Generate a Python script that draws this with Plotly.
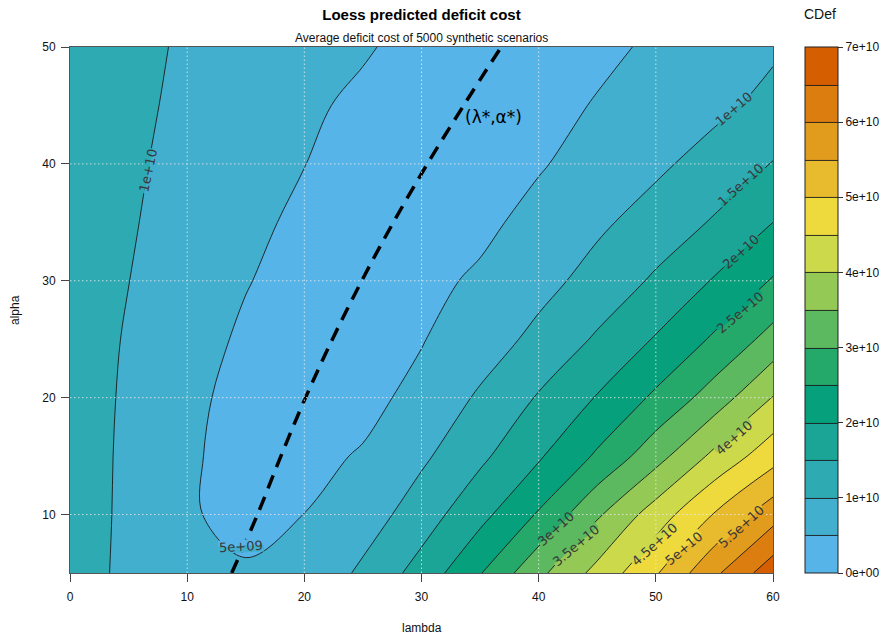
import math
import numpy as np
import plotly.graph_objects as go

# grid of the loess surface
lam = [0, 5, 10, 15, 20, 25, 30, 35, 40, 45, 50, 55, 60]
alpha = [5, 10, 15, 20, 25, 30, 35, 40, 45, 50]

# predicted deficit cost (units of 1e9), one row per alpha value
cdef_e9 = [
    [12.5, 8.8, 5.9, 5.25, 5.8, 11.0, 16.9, 24.7, 33.8, 41.5, 49.5, 59.0, 68.0],    # alpha 5
    [12.5, 9.0, 5.25, 4.3, 5.02, 7.4, 12.6, 18.5, 25.5, 34.3, 42.4, 50.3, 58.0],    # alpha 10
    [12.5, 9.1, 5.27, 4.3, 4.05, 5.3, 9.1, 14.0, 19.4, 25.7, 33.1, 41.2, 48.0],     # alpha 15
    [12.5, 9.3, 5.51, 4.3, 3.75, 3.95, 6.05, 10.74, 15.4, 20.3, 25.9, 32.3, 40.2],  # alpha 20
    [12.5, 9.6, 6.29, 4.5, 3.8, 3.8, 4.8, 7.28, 11.4, 15.6, 20.4, 25.7, 31.8],      # alpha 25
    [12.5, 10.05, 7.3, 5.16, 3.8, 3.5, 3.76, 5.7, 8.25, 11.9, 15.7, 20.4, 25.4],    # alpha 30
    [12.5, 10.4, 8.2, 5.94, 4.2, 3.6, 3.5, 3.91, 6.5, 9.06, 12.2, 15.45, 20.0],     # alpha 35
    [12.3, 10.63, 8.78, 6.92, 5.05, 3.8, 3.4, 3.6, 4.58, 6.9, 9.01, 12.1, 15.2],    # alpha 40
    [12.2, 10.89, 9.18, 7.48, 5.6, 4.3, 3.5, 3.25, 3.45, 5.31, 7.23, 8.74, 11.6],   # alpha 45
    [12.0, 10.96, 9.55, 8.14, 6.74, 5.35, 3.9, 3.2, 3.2, 3.95, 5.7, 7.45, 9.2],     # alpha 50
]

# optimal lambda for each alpha (dashed path)
lambda_star = [13.8, 16.0, 18.0, 20.1, 22.4, 24.9, 27.6, 30.5, 33.6, 36.8]
alpha_star = alpha

# contour levels and colour key ticks
level_start, level_end, level_step = 5e9, 6.5e10, 5e9
key_min, key_max = 0, 7e10
key_ticks = [0, 1e10, 2e10, 3e10, 4e10, 5e10, 6e10, 7e10]

# contour levels that carry an inline label
label_levels = [1e10, 5e9, 1e10, 1.5e10, 2e10, 2.5e10, 3e10, 3.5e10, 4e10, 4.5e10, 5e10, 5.5e10]

x_ticks = [0, 10, 20, 30, 40, 50, 60]
y_ticks = [10, 20, 30, 40, 50]
x_grid = [10, 20, 30, 40, 50]
y_grid = [10, 20, 30, 40]


def sci(v):
    """R-style scientific label: 1e+10, 1.5e+10, 5e+09, 0e+00."""
    mant, exp = ("%.1e" % v).split("e")
    mant = mant.rstrip("0").rstrip(".")
    return "%se%s" % (mant, exp)


z = np.array(cdef_e9) * 1e9

# 14-step palette ramped through blue -> green -> yellow -> vermillion
anchors = np.array([[0x56, 0xB4, 0xE9], [0x00, 0x9E, 0x73],
                    [0xF0, 0xE4, 0x42], [0xD5, 0x5E, 0x00]], dtype=float)
n_bands = 14
t = np.linspace(0, 1, n_bands) * (len(anchors) - 1)
band_colors = []
for v in t:
    i = min(int(np.floor(v)), len(anchors) - 2)
    f = v - i
    c = anchors[i] * (1 - f) + anchors[i + 1] * f
    band_colors.append("#%02X%02X%02X" % tuple(int(round(k)) for k in c))
colorscale = [[i / (n_bands - 1), c] for i, c in enumerate(band_colors)]

FONT = "Liberation Sans, Arial, sans-serif"
LABEL_FONT = "DejaVu Sans"
LABEL_SIZE = 13

# plot area in pixels
W, H = 896, 641
ML, MR, MT, MB = 70, 123, 47, 68
PW, PH = W - ML - MR, H - MT - MB

fig = go.Figure()
fig.add_trace(go.Contour(
    x=lam, y=alpha, z=z, zmin=key_min, zmax=key_max,
    autocontour=False,
    contours=dict(start=level_start, end=level_end, size=level_step,
                  coloring="fill", showlabels=False),
    colorscale=colorscale,
    line=dict(color="#1a1a1a", width=0.9, smoothing=1.0),
    colorbar=dict(
        x=1 + 32 / PW, xanchor="left", xpad=0, y=0.5, yanchor="middle",
        len=1.0, lenmode="fraction", thickness=33, thicknessmode="pixels",
        ypad=0, outlinecolor="#222222", outlinewidth=1,
        tickvals=key_ticks, ticktext=[sci(v) for v in key_ticks],
        ticks="outside", ticklen=5, tickcolor="#333333",
        tickfont=dict(family=FONT, size=12, color="#111111"),
    ),
    hoverinfo="skip",
))

fig.add_trace(go.Scatter(
    x=lambda_star, y=alpha_star, mode="lines",
    line=dict(color="black", width=3.5, dash="14px,9px", shape="spline"),
    hoverinfo="skip", showlegend=False,
))

shapes = []
grid_line = dict(color="rgba(238,238,238,0.8)", width=1, dash="1.5px,2.5px")
for gx in x_grid:
    shapes.append(dict(type="line", xref="x", yref="y", x0=gx, x1=gx,
                       y0=alpha[0], y1=alpha[-1], layer="above", line=grid_line))
for gy in y_grid:
    shapes.append(dict(type="line", xref="x", yref="y", x0=lam[0], x1=lam[-1],
                       y0=gy, y1=gy, layer="above", line=grid_line))

# inline contour labels: placement (lambda, alpha), text angle (deg, ccw),
# and whether the lower band lies on the left-hand normal of the text baseline
label_pos = [(6.7, 39.4), (14.6, 7.3), (56.7, 44.7), (57.3, 38.2), (57.3, 32.5),
             (57.2, 27.3), (41.5, 8.8), (43.2, 7.35), (56.7, 16.6), (49.9, 7.4),
             (52.4, 7.1), (57.3, 9.0)]
label_angle = [78, 3, 41, 42, 42, 40, 42, 40, 42, 42, 40, 42]
label_low_left = [False, True, True, True, True, True, True, True, True, True, True, True]

# pixel size of one data unit on each axis
px_x = PW / (lam[-1] - lam[0])
px_y = PH / (alpha[-1] - alpha[0])
char_w = {"e": 0.615, "+": 0.838, ".": 0.318}


def text_width(s):
    return sum(char_w.get(ch, 0.636) for ch in s) * LABEL_SIZE


annotations = []
for lev, (lx, ly), ang, low_left in zip(label_levels, label_pos, label_angle, label_low_left):
    txt = sci(lev)
    k = int(round(lev / level_step))
    low_col, high_col = band_colors[k - 1], band_colors[k]
    left_col, right_col = (low_col, high_col) if low_left else (high_col, low_col)
    half_l = (text_width(txt) + 2) / 2
    half_h = 6.5
    th = math.radians(ang)
    ux, uy = math.cos(th), math.sin(th)
    nx, ny = -uy, ux

    def pt(a, b):
        return (lx + (ux * a + nx * b) / px_x, ly + (uy * a + ny * b) / px_y)

    for side, col in ((1, left_col), (-1, right_col)):
        pts = [pt(-half_l, 0), pt(half_l, 0), pt(half_l, side * half_h), pt(-half_l, side * half_h)]
        path = "M " + " L ".join("%.4f,%.4f" % p for p in pts) + " Z"
        shapes.append(dict(type="path", xref="x", yref="y", path=path, layer="above",
                           fillcolor=col, line=dict(width=0)))
    annotations.append(dict(text=txt, x=lx, y=ly, xref="x", yref="y", showarrow=False,
                            textangle=-ang, xanchor="center", yanchor="middle",
                            font=dict(family=LABEL_FONT, size=LABEL_SIZE, color="#383838")))

annotations += [
    dict(text="Average deficit cost of 5000 synthetic scenarios",
         xref="paper", yref="paper", x=0.5, y=1 + 9 / PH,
         showarrow=False, yanchor="middle",
         font=dict(family=FONT, size=12, color="#111111")),
    dict(text="CDef", xref="paper", yref="paper",
         x=(820 - ML) / PW, y=1 + 33 / PH, showarrow=False,
         yanchor="middle", xanchor="center",
         font=dict(family=FONT, size=14, color="#111111")),
    dict(text="(\u03bb*,\u03b1*)", x=lambda_star[7] + 3.0, y=44.0,
         xref="x", yref="y", showarrow=False, xanchor="left",
         yanchor="middle",
         font=dict(family="DejaVu Sans", size=17, color="#000000")),
    dict(text="lambda", xref="paper", yref="paper", x=0.5, y=-(628 - MT - PH) / PH,
         showarrow=False, xanchor="center", yanchor="middle",
         font=dict(family=FONT, size=12, color="#111111")),
    dict(text="alpha", xref="paper", yref="paper", x=-(ML - 15) / PW, y=0.5,
         showarrow=False, xanchor="center", yanchor="middle", textangle=-90,
         font=dict(family=FONT, size=12, color="#111111")),
]

fig.update_layout(
    width=W, height=H,
    margin=dict(l=ML, r=MR, t=MT, b=MB, autoexpand=False),
    paper_bgcolor="white", plot_bgcolor="white",
    font=dict(family=FONT, size=12, color="#111111"),
    showlegend=False,
    shapes=shapes,
    annotations=annotations,
    title=dict(text="<b>Loess predicted deficit cost</b>", x=0.5, xref="paper",
               y=1 - 15 / H, yref="container", yanchor="middle",
               font=dict(family=FONT, size=15, color="#000000")),
    xaxis=dict(range=[lam[0], lam[-1]], tickvals=x_ticks, ticks="outside",
               ticklen=8, tickcolor="#444444", showgrid=False, zeroline=False,
               showline=True, mirror=True, linecolor="#555555", linewidth=1,
               ticklabelstandoff=5, automargin=False),
    yaxis=dict(range=[alpha[0], alpha[-1]], tickvals=y_ticks, ticks="outside",
               ticklen=8, tickcolor="#444444", showgrid=False, zeroline=False,
               showline=True, mirror=True, linecolor="#555555", linewidth=1,
               ticklabelstandoff=3, automargin=False),
)

fig.write_html("out.html")
